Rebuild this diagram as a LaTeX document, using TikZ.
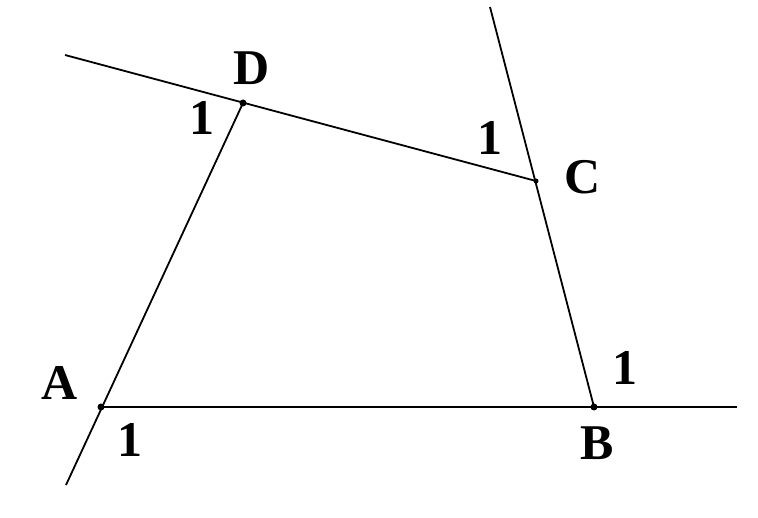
\documentclass[tikz,border=0pt]{standalone}
\usepackage{fontspec}
\setmainfont{Liberation Serif}
\begin{document}
\begin{tikzpicture}[x=1pt,y=1pt,
  seg/.style={line width=1.8pt},
  lbl/.style={font=\fontsize{50}{50}\selectfont\bfseries, inner sep=0pt},
  vdot/.style={circle, fill=black, inner sep=0pt, minimum size=7pt}]
\useasboundingbox (0,0) rectangle (758,517);
\coordinate (A) at (101,110);
\coordinate (B) at (594,110);
\coordinate (C) at (536,336);
\coordinate (D) at (243,414);
\coordinate (Ae) at (737,110);
\coordinate (Ce) at (490,510);
\coordinate (De) at (65,462);
\coordinate (Be) at (66,32);
\draw[seg] (A) -- (Ae);
\draw[seg] (B) -- (Ce);
\draw[seg] (C) -- (De);
\draw[seg] (D) -- (Be);
\node[vdot] (pA) at (A) {};
\node[vdot] (pB) at (B) {};
\node[vdot, minimum size=5pt] (pC) at (C) {};
\node[vdot] (pD) at (D) {};
\node[lbl] (lA) at (60,134) {A};
\node[lbl] (lB) at (597,74) {B};
\node[lbl] (lC) at (583,340) {C};
\node[lbl] (lD) at (252,449) {D};
\node[lbl] (nA) at (130,77) {1};
\node[lbl] (nB) at (625,149) {1};
\node[lbl] (nC) at (490,379) {1};
\node[lbl] (nD) at (202,399) {1};
\end{tikzpicture}
\end{document}
